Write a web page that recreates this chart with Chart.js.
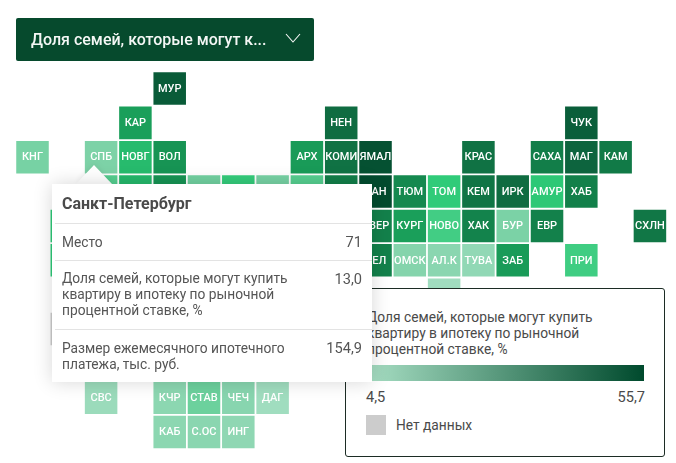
<!DOCTYPE html>
<html lang="ru">
<head>
<meta charset="utf-8">
<script src="https://cdn.jsdelivr.net/npm/chart.js@4"></script>
<style>
html,body{margin:0;padding:0;background:#fff;width:676px;height:463px;overflow:hidden;font-family:Roboto,sans-serif;}
#wrap{position:relative;width:676px;height:463px;}
canvas{position:absolute;left:0;top:0;}
#dd{position:absolute;left:16px;top:18px;width:298px;height:43px;background:#064a2d;border-radius:2px;color:#f4f7f5;font-weight:500;font-size:16px;line-height:43px;}
#dd span{position:absolute;left:15px;top:0;white-space:nowrap;}
#dd svg{position:absolute;left:269px;top:14px;}
#lg{position:absolute;left:345px;top:288px;width:318px;height:167px;border:1px solid #1c2c24;border-radius:3px;background:#fff;color:#4a4a4a;font-size:13.75px;}
#lg .t{position:absolute;left:21px;top:20px;width:270px;line-height:16px;}
#lg .g{position:absolute;left:20px;top:76px;width:278px;height:16px;background:linear-gradient(90deg,#a8dfc4,#004a2d);}
#lg .a{position:absolute;left:20px;top:100px;line-height:16px;font-size:14.6px;}
#lg .b{position:absolute;right:19px;top:100px;line-height:16px;font-size:14.6px;}
#lg .s{position:absolute;left:20px;top:126px;width:20px;height:20px;background:#ccc;}
#lg .n{position:absolute;left:50px;top:128px;line-height:16px;}
#tt{position:absolute;left:52px;top:184px;width:320px;height:198px;background:#fff;box-shadow:0 0 18px rgba(0,0,0,.16);color:#555;font-size:13.75px;}
#arr{position:absolute;left:76px;top:165px;width:0;height:0;border-left:18px solid transparent;border-right:18px solid transparent;border-bottom:19px solid #fff;filter:drop-shadow(0 -1px 3px rgba(0,0,0,.08));}
#tt .h{position:absolute;left:10px;top:11px;font-size:16px;font-weight:700;color:#4a4a4a;line-height:18px;}
#tt .l{position:absolute;left:3px;right:0;height:1px;background:#e3e3e3;}
#tt .k{position:absolute;left:10px;width:240px;line-height:16px;}
#tt .v{position:absolute;right:10px;line-height:16px;font-size:14.6px;}
</style>
</head>
<body>
<div id="wrap">
<canvas id="c" width="676" height="463"></canvas>
<div id="dd"><span>Доля семей, которые могут к...</span><svg width="16" height="14" viewBox="0 0 16 14"><path d="M1 2 L8 10 L15 2" fill="none" stroke="#f4f7f5" stroke-width="1.1"/></svg></div>
<div id="lg">
<div class="t">Доля семей, которые могут купить квартиру в ипотеку по рыночной процентной ставке, %</div>
<div class="g"></div>
<div class="a">4,5</div><div class="b">55,7</div>
<div class="s"></div><div class="n">Нет данных</div>
</div>
<div id="arr"></div>
<div id="tt">
<div class="h">Санкт-Петербург</div>
<div class="l" style="top:39px"></div>
<div class="k" style="top:50px">Место</div><div class="v" style="top:50px">71</div>
<div class="l" style="top:76px"></div>
<div class="k" style="top:86px">Доля семей, которые могут купить квартиру в ипотеку по рыночной процентной ставке, %</div><div class="v" style="top:87px">13,0</div>
<div class="l" style="top:145px"></div>
<div class="k" style="top:156px">Размер ежемесячного ипотечного платежа, тыс. руб.</div><div class="v" style="top:156px">154,9</div>
</div>
</div>
<script>
// Regions of the tile map (labels that sit wholly under the tooltip stay blank)
const labels = ['МУР','КАР','НЕН','ЧУК',
 'КНГ','СПБ','НОВГ','ВОЛ','АРХ','КОМИ','ЯМАЛ','КРАС','САХА','МАГ','КАМ',
 '','','','','','','','','ХАН','ТЮМ','ТОМ','КЕМ','ИРК','АМУР','ХАБ',
 '','СВЕР','КУРГ','НОВО','ХАК','БУР','ЕВР','СХЛН',
 '','ЧЕЛ','ОМСК','АЛ.К','ТУВА','ЗАБ','ПРИ',
 'АЛТ','',
 'СВС','КЧР','СТАВ','ЧЕЧ','ДАГ',
 'КАБ','С.ОС','ИНГ'];
const columns = [4,3,9,16,
 0,2,3,4,8,9,10,13,15,16,17,
 2,3,4,5,6,7,8,9,10,11,12,13,14,15,16,
 1,10,11,12,13,14,15,18,
 1,10,11,12,13,14,16,
 12,1,
 2,4,5,6,7,
 4,5,6];
const rows = [0,1,1,1,
 2,2,2,2,2,2,2,2,2,2,2,
 3,3,3,3,3,3,3,3,3,3,3,3,3,3,3,
 4,4,4,4,4,4,4,4,
 5,5,5,5,5,5,5,
 6,7,
 9,9,9,9,9,
 10,10,10];
// Share of families, %; null = no data
const shares = [49,28,43,48,
 13.5,13,23,31,29,41,52,41,37,46,38,
 16.5,23.5,31,14,19.5,13.5,16.5,37,54,34,19.8,40,43,20.5,36.5,
 20,36,28,18.2,35.5,13.2,36,39,
 20,36,11.5,10.5,9,29,18.5,
 6,null,
 7,10,14.5,10.8,6,
 10,10.5,9.5];

const noDataColor = '#cccccc';
const scaleStops = [[4.5,[168,223,196]],[13,[125,210,167]],[20,[46,203,120]],[28,[26,159,90]],[38,[17,122,71]],[46,[13,100,62]],[55.7,[0,70,43]]];
function shareColor(v){
  if(v===null) return noDataColor;
  for(let i=1;i<scaleStops.length;i++){
    const [v1,c1]=scaleStops[i];
    if(v<=v1){
      const [v0,c0]=scaleStops[i-1];
      const t=(v-v0)/(v1-v0);
      return 'rgb('+c0.map((c,k)=>Math.round(c+(c1[k]-c)*t)).join(',')+')';
    }
  }
  return 'rgb('+scaleStops[scaleStops.length-1][1].join(',')+')';
}
const tileLabels = {
  id:'tileLabels',
  afterDatasetsDraw(chart){
    const {ctx}=chart;
    const pts=chart.getDatasetMeta(0).data;
    ctx.save();
    ctx.font='500 11px Roboto';
    ctx.fillStyle='#ffffff';
    ctx.textAlign='center';
    ctx.textBaseline='middle';
    pts.forEach((p,i)=>{ if(labels[i]) ctx.fillText(labels[i],p.x,p.y+0.5); });
    ctx.restore();
  }
};
new Chart(document.getElementById('c'),{
  type:'scatter',
  data:{datasets:[{
    data:columns.map((c,i)=>({x:c,y:rows[i]})),
    backgroundColor:shares.map(shareColor),
    pointStyle:'rect',
    pointRadius:23,
    pointHoverRadius:23,
    borderWidth:0
  }]},
  options:{
    responsive:false,
    animation:false,
    layout:{padding:0,autoPadding:false},
    plugins:{legend:{display:false},tooltip:{enabled:false}},
    scales:{
      x:{type:'linear',display:false,min:-0.9475,max:18.76},
      y:{type:'linear',display:false,reverse:true,min:-2.576,max:10.9}
    }
  },
  plugins:[tileLabels]
});
</script>
</body>
</html>
